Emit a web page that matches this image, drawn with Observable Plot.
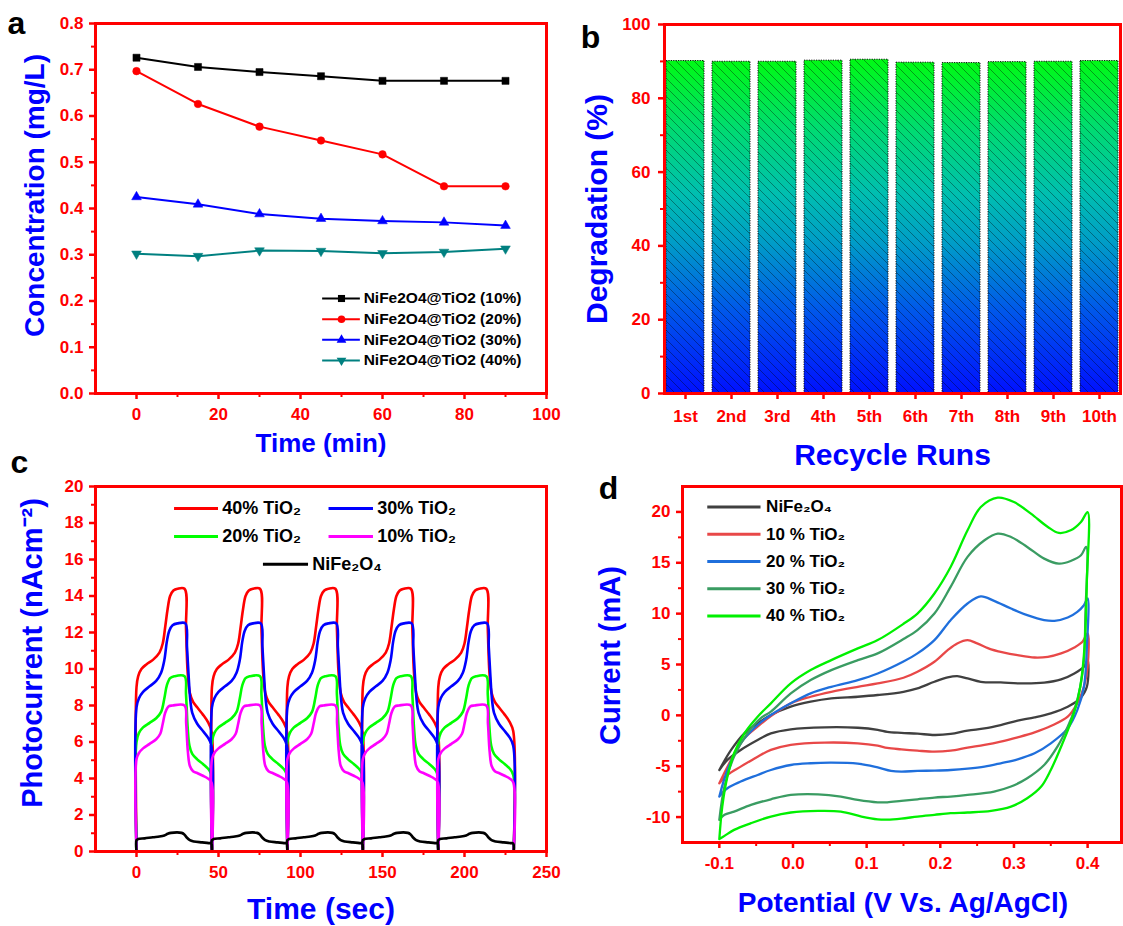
<!DOCTYPE html>
<html><head><meta charset="utf-8">
<script src="https://cdn.jsdelivr.net/npm/d3@7"></script>
<script src="https://cdn.jsdelivr.net/npm/@observablehq/plot@0.6"></script>
<style>
html,body{margin:0;padding:0;background:#fff;}
#root{position:relative;width:1123px;height:926px;background:#fff;overflow:hidden;}
</style></head><body><div id="root"></div>
<script>
// ---------- Panel a: concentration vs time ----------
const timeMin = [0, 15, 30, 45, 60, 75, 90];
const conc10 = [0.726, 0.706, 0.695, 0.686, 0.676, 0.676, 0.676];
const conc20 = [0.697, 0.626, 0.577, 0.547, 0.517, 0.448, 0.448];
const conc30 = [0.425, 0.409, 0.388, 0.378, 0.373, 0.370, 0.363];
const conc40 = [0.302, 0.297, 0.309, 0.308, 0.303, 0.306, 0.313];
const seriesA = ["NiFe2O4@TiO2 (10%)", "NiFe2O4@TiO2 (20%)", "NiFe2O4@TiO2 (30%)", "NiFe2O4@TiO2 (40%)"];
const ticksAX = [0, 20, 40, 60, 80, 100];
const ticksAY = [0, 0.1, 0.2, 0.3, 0.4, 0.5, 0.6, 0.7, 0.8];

// ---------- Panel b: recycle runs ----------
const runs = ["1st", "2nd", "3rd", "4th", "5th", "6th", "7th", "8th", "9th", "10th"];
const degradation = [90.1, 89.9, 89.9, 90.2, 90.45, 89.65, 89.55, 89.8, 89.9, 90.1];
const ticksBY = [0, 20, 40, 60, 80, 100];

// ---------- Panel c: photocurrent (one read cycle per series, repeated at the cycle starts) ----------
const cycleStarts = [0, 46, 92, 138, 184];
const cycleEnd = 230;
const pcNames = ["40% TiO₂", "30% TiO₂", "20% TiO₂", "10% TiO₂", "NiFe₂O₄"];
const pc40T = [0, 0, 1, 3, 6, 10, 14, 16, 17.5, 19, 20.5, 22.5, 25, 29.3, 30.2, 31.2, 32.5, 34.5, 37, 40.5, 43.5, 45.7];
const pc40V = [0, 9.0, 9.6, 10.0, 10.25, 10.5, 10.9, 11.4, 12.3, 13.3, 14.0, 14.3, 14.4, 14.4, 12.2, 9.8, 8.7, 8.2, 7.9, 7.5, 7.1, 6.6];
const pc30T = [0, 0, 1.5, 4, 8, 12, 15, 17, 18.5, 20, 22, 25, 29.8, 30.8, 31.8, 32.8, 34, 37, 40.5, 43.5, 45.7];
const pc30V = [0, 7.9, 8.4, 8.75, 9.05, 9.35, 9.8, 10.5, 11.5, 12.1, 12.4, 12.5, 12.5, 11.2, 9.6, 8.3, 7.6, 7.0, 6.6, 6.25, 5.8];
const pc20T = [0, 0, 1.5, 4, 8, 12, 15, 17, 18.5, 20.5, 23, 29.3, 30.2, 31.2, 32.3, 34, 37, 40.5, 43.5, 45.7];
const pc20V = [0, 6.0, 6.5, 6.8, 7.05, 7.3, 7.65, 8.4, 9.1, 9.5, 9.6, 9.6, 8.6, 6.8, 5.8, 5.35, 5.05, 4.8, 4.55, 4.2];
const pc10T = [0, 0, 1.5, 4, 8, 12, 14.5, 16, 17.5, 19.5, 22, 29.3, 30.3, 31.3, 32.5, 34.5, 37, 40.5, 43.5, 45.7];
const pc10V = [0, 5.05, 5.4, 5.65, 5.9, 6.15, 6.45, 7.0, 7.6, 7.95, 8.0, 8.0, 7.0, 5.5, 4.7, 4.4, 4.3, 4.15, 4.0, 3.8];
const pc0T = [0, 0, 1, 5, 10, 14, 17, 19, 21, 27.5, 29, 30.5, 32.5, 35, 40, 44, 45.7];
const pc0V = [0, 0.62, 0.68, 0.72, 0.78, 0.82, 0.88, 0.97, 1.02, 1.02, 0.95, 0.78, 0.62, 0.55, 0.5, 0.46, 0.43];
const ticksCX = [0, 50, 100, 150, 200, 250];
const ticksCY = [0, 2, 4, 6, 8, 10, 12, 14, 16, 18, 20];

// ---------- Panel d: cyclic voltammetry [potential V, current mA] ----------
const cvNames = ["NiFe₂O₄", "10 % TiO₂", "20 % TiO₂", "30 % TiO₂", "40 % TiO₂"];
const cvNiFe = [[-0.100,-5.37],[-0.084,-3.40],[-0.066,-1.77],[-0.048,-0.79],[-0.030,0.03],[-0.003,0.85],[0.024,1.34],[0.052,1.67],[0.088,1.83],[0.115,2.00],[0.150,2.32],[0.169,2.65],[0.192,3.30],[0.210,3.73],[0.223,3.86],[0.237,3.63],[0.255,3.30],[0.282,3.24],[0.309,3.14],[0.341,3.21],[0.364,3.53],[0.382,4.12],[0.395,4.78],[0.400,5.43],
  [0.399,2.81],[0.390,1.67],[0.373,0.85],[0.350,0.20],[0.328,-0.20],[0.305,-0.52],[0.282,-0.95],[0.260,-1.28],[0.237,-1.50],[0.214,-1.83],[0.192,-1.93],[0.169,-1.80],[0.147,-1.72],[0.128,-1.62],[0.115,-1.42],[0.088,-1.22],[0.043,-1.18],[-0.003,-1.37],[-0.030,-1.77],[-0.048,-2.42],[-0.071,-3.40],[-0.089,-4.38],[-0.100,-5.37]];
const cv10 = [[-0.100,-6.68],[-0.084,-4.38],[-0.066,-2.26],[-0.048,-1.11],[-0.030,-0.07],[-0.003,1.18],[0.024,1.83],[0.052,2.32],[0.088,2.81],[0.115,3.14],[0.150,3.70],[0.169,4.29],[0.192,5.27],[0.210,6.41],[0.223,7.07],[0.237,7.40],[0.250,7.07],[0.269,6.48],[0.282,6.25],[0.305,5.92],[0.328,5.69],[0.346,5.76],[0.364,6.09],[0.382,6.68],[0.393,7.23],[0.400,8.05],
  [0.400,4.78],[0.395,2.81],[0.386,1.18],[0.373,-0.13],[0.350,-1.05],[0.328,-1.67],[0.305,-2.16],[0.282,-2.59],[0.260,-2.91],[0.237,-3.17],[0.214,-3.47],[0.192,-3.57],[0.169,-3.47],[0.147,-3.34],[0.128,-3.20],[0.115,-2.98],[0.088,-2.75],[0.043,-2.68],[-0.003,-2.90],[-0.030,-3.40],[-0.048,-4.06],[-0.071,-5.04],[-0.089,-5.86],[-0.100,-6.68]];
const cv20 = [[-0.100,-7.98],[-0.089,-5.37],[-0.071,-2.75],[-0.048,-0.95],[-0.030,0.03],[-0.003,1.18],[0.024,2.16],[0.052,2.81],[0.088,3.47],[0.115,4.12],[0.150,5.30],[0.169,6.09],[0.192,7.40],[0.214,9.36],[0.237,11.0],[0.255,11.7],[0.273,11.26],[0.296,10.5],[0.318,9.85],[0.341,9.36],[0.355,9.29],[0.373,9.62],[0.386,10.18],[0.395,10.83],[0.400,11.49],
  [0.399,6.74],[0.395,2.81],[0.386,0.52],[0.373,-1.28],[0.350,-2.75],[0.328,-3.73],[0.305,-4.32],[0.282,-4.71],[0.260,-5.04],[0.237,-5.24],[0.214,-5.37],[0.192,-5.43],[0.169,-5.46],[0.147,-5.53],[0.133,-5.45],[0.115,-5.12],[0.088,-4.75],[0.052,-4.65],[0.024,-4.71],[-0.003,-4.88],[-0.030,-5.37],[-0.048,-5.86],[-0.071,-6.51],[-0.089,-7.17],[-0.100,-7.98]];
const cv30 = [[-0.100,-10.27],[-0.093,-7.00],[-0.080,-4.06],[-0.062,-1.77],[-0.044,-0.29],[-0.030,0.36],[-0.003,2.16],[0.024,3.47],[0.052,4.45],[0.088,5.43],[0.115,6.09],[0.150,7.50],[0.169,8.38],[0.192,10.01],[0.214,12.63],[0.237,15.58],[0.260,17.21],[0.278,17.87],[0.296,17.54],[0.318,16.56],[0.341,15.41],[0.361,14.92],[0.377,15.18],[0.391,15.74],[0.398,16.56],
  [0.397,10.0],[0.395,5.43],[0.390,2.81],[0.382,0.52],[0.373,-1.11],[0.359,-3.08],[0.341,-4.88],[0.318,-6.18],[0.296,-7.00],[0.273,-7.49],[0.237,-7.82],[0.214,-7.98],[0.192,-8.08],[0.169,-8.25],[0.147,-8.41],[0.128,-8.55],[0.115,-8.55],[0.088,-8.31],[0.065,-7.98],[0.034,-7.76],[-0.003,-7.82],[-0.030,-8.25],[-0.057,-8.80],[-0.080,-9.46],[-0.093,-9.78],[-0.100,-10.27]];
const cv40 = [[-0.100,-12.17],[-0.096,-8.97],[-0.089,-6.02],[-0.080,-3.73],[-0.066,-1.77],[-0.048,-0.13],[-0.030,1.18],[-0.003,3.14],[0.024,4.45],[0.052,5.43],[0.088,6.58],[0.115,7.40],[0.150,9.0],[0.169,10.01],[0.192,11.98],[0.214,14.59],[0.237,18.19],[0.255,20.48],[0.278,21.40],[0.300,20.97],[0.323,19.83],[0.346,18.52],[0.361,17.93],[0.377,18.19],[0.391,19.01],[0.400,19.99],
  [0.399,13.3],[0.397,8.38],[0.394,5.10],[0.390,2.81],[0.384,0.85],[0.375,-1.11],[0.364,-3.08],[0.350,-5.37],[0.337,-7.00],[0.318,-8.15],[0.296,-8.97],[0.269,-9.39],[0.237,-9.55],[0.214,-9.62],[0.192,-9.78],[0.169,-9.95],[0.147,-10.15],[0.128,-10.25],[0.115,-10.22],[0.093,-9.95],[0.065,-9.46],[0.034,-9.39],[-0.003,-9.55],[-0.030,-9.95],[-0.057,-10.60],[-0.080,-11.26],[-0.093,-11.85],[-0.100,-12.17]];
const ticksDX = [-0.1, 0, 0.1, 0.2, 0.3, 0.4];
const ticksDY = [-10, -5, 0, 5, 10, 15, 20];

// ---------- helpers ----------
const RED = "#ff0000", BLUE = "#0000ff";
const FONT = "'Liberation Sans', Arial, Helvetica, sans-serif";
const root = document.getElementById("root");
function baseStyle() { return {fontFamily: FONT, fontSize: "17px", fontWeight: "bold", background: "transparent", overflow: "visible"}; }
function mount(svg, left, top) { svg.style.position = "absolute"; svg.style.left = left + "px"; svg.style.top = top + "px"; root.appendChild(svg); return svg; }
function axisMarks({xTicks, xMinor, xFormat, yTicks, yMinor, yFormat, xPad = 8, yPad = 6}) {
  const base = {stroke: RED, fill: RED, fontSize: 17, fontWeight: "bold", label: null};
  const m = [
    Plot.axisX({...base, ticks: xTicks, tickFormat: xFormat, tickSize: 6, tickPadding: xPad, strokeWidth: 2.5}),
    Plot.axisY({...base, ticks: yTicks, tickFormat: yFormat, tickSize: 6, tickPadding: yPad, strokeWidth: 2.5})
  ];
  if (xMinor) m.push(Plot.axisX({...base, ticks: xMinor, tickFormat: () => "", tickSize: 4, tickPadding: 0, strokeWidth: 2}));
  if (yMinor) m.push(Plot.axisY({...base, ticks: yMinor, tickFormat: () => "", tickSize: 4, tickPadding: 0, strokeWidth: 2}));
  return m;
}
function label(text, {anchor, dx = 0, dy = 0, size, rotate = 0, fill = BLUE}) {
  return Plot.text([text], {text: d => d, frameAnchor: anchor, textAnchor: "middle", lineAnchor: "middle", dx, dy, rotate, fontSize: size, fontWeight: "bold", fill});
}
const mid = (a, b) => a.map((v, i) => (v + b[i]) / 2);

// ---------- Panel a ----------
const triDown = {draw(ctx, size) { const y = Math.sqrt(size / (Math.sqrt(3) * 3)); ctx.moveTo(0, 2 * y); ctx.lineTo(-Math.sqrt(3) * y, -y); ctx.lineTo(Math.sqrt(3) * y, -y); ctx.closePath(); }};
const styleA = [
  {color: "#000000", symbol: "square", r: 4},
  {color: "#ff0000", symbol: "circle", r: 3.8},
  {color: "#0000ff", symbol: "triangle", r: 3.6},
  {color: "#008080", symbol: triDown, r: 3.6}
];
const concA = [conc10, conc20, conc30, conc40];
const marksA = [];
concA.forEach((arr, k) => {
  const rows = timeMin.map((t, i) => ({t, c: arr[i]}));
  marksA.push(Plot.line(rows, {x: "t", y: "c", stroke: styleA[k].color, strokeWidth: 2}));
  marksA.push(Plot.dot(rows, {x: "t", y: "c", fill: styleA[k].color, stroke: styleA[k].color, strokeWidth: 0.5, symbol: styleA[k].symbol, r: styleA[k].r}));
});
seriesA.forEach((name, k) => {
  const row = [{y: 0.2054 - k * 0.0447}];
  marksA.push(Plot.ruleY(row, {y: "y", x1: 45.4, x2: 54.6, stroke: styleA[k].color, strokeWidth: 2}));
  marksA.push(Plot.dot(row, {x: 50, y: "y", fill: styleA[k].color, symbol: styleA[k].symbol, r: styleA[k].r}));
  marksA.push(Plot.text(row, {x: 55.4, y: "y", text: () => name, textAnchor: "start", fill: "#000", fontSize: 15.5, fontWeight: "bold"}));
});
const svgA = Plot.plot({
  width: 561, height: 460, marginLeft: 95, marginRight: 15, marginTop: 23, marginBottom: 67,
  x: {domain: [-10, 100]}, y: {domain: [0, 0.8]},
  style: baseStyle(),
  marks: [
    ...marksA,
    ...axisMarks({xTicks: ticksAX, xMinor: mid(ticksAX.slice(0, -1), ticksAX.slice(1)), yTicks: ticksAY, yMinor: mid(ticksAY.slice(0, -1), ticksAY.slice(1)), yFormat: d => d.toFixed(1)}),
    Plot.frame({stroke: RED, strokeWidth: 3}),
    label("Concentration (mg/L)", {anchor: "left", dx: -60, dy: -13, size: 28, rotate: -90}),
    label("Time (min)", {anchor: "bottom", dy: 50, size: 26}),
    label("a", {anchor: "top-left", dx: -79, dy: 0, size: 32, fill: "#000"})
  ]
});
mount(svgA, 0, 0);

// ---------- Panel b ----------
const barRows = runs.map((run, i) => ({run, deg: degradation[i]}));
const svgB = Plot.plot({
  width: 562, height: 470, marginLeft: 103, marginRight: 3, marginTop: 24, marginBottom: 77,
  x: {type: "band", domain: runs, paddingInner: 0.18, paddingOuter: 0.04},
  y: {domain: [0, 100]},
  style: baseStyle(),
  marks: [
    Plot.barY(barRows, {x: "run", y: "deg", fill: "url(#gradB)"}),
    Plot.barY(barRows, {x: "run", y: "deg", fill: "url(#hatchB)", stroke: "#111", strokeWidth: 1, strokeDasharray: "1.2,1.2"}),
    ...axisMarks({yTicks: ticksBY, yMinor: mid(ticksBY.slice(0, -1), ticksBY.slice(1)), xPad: 10, yPad: 8}),
    Plot.frame({stroke: RED, strokeWidth: 3}),
    label("Degradation (%)", {anchor: "left", dx: -67, dy: 0, size: 30, rotate: -90}),
    label("Recycle Runs", {anchor: "bottom", dy: 62, size: 30}),
    label("b", {anchor: "top-left", dx: -74, dy: 13, size: 32, fill: "#000"})
  ]
});
const defs = d3.select(svgB).insert("defs", ":first-child");
const grad = defs.append("linearGradient").attr("id", "gradB").attr("x1", 0).attr("y1", 1).attr("x2", 0).attr("y2", 0);
[[0, "#0010ff"], [0.25, "#0058ea"], [0.45, "#009cc8"], [0.6, "#00bfb0"], [0.8, "#00dc70"], [1, "#00fa14"]]
  .forEach(([o, c]) => grad.append("stop").attr("offset", o).attr("stop-color", c));
const pat = defs.append("pattern").attr("id", "hatchB").attr("patternUnits", "userSpaceOnUse").attr("width", 9).attr("height", 9);
pat.append("path").attr("d", "M-2,-2L11,11M-2,7L2,11M7,-2L11,2").attr("stroke", "#000").attr("stroke-width", 0.6).attr("stroke-opacity", 0.6).attr("fill", "none");
mount(svgB, 561, 0);

// ---------- Panel c ----------
const pcSeries = [
  {name: pcNames[0], color: "#ff0000", t: pc40T, v: pc40V},
  {name: pcNames[1], color: "#0000ff", t: pc30T, v: pc30V},
  {name: pcNames[2], color: "#00ff00", t: pc20T, v: pc20V},
  {name: pcNames[3], color: "#ff00ff", t: pc10T, v: pc10V},
  {name: pcNames[4], color: "#000000", t: pc0T, v: pc0V}
];
const drawOrder = [0, 2, 1, 3, 4];
const marksC = drawOrder.map(k => {
  const s = pcSeries[k];
  const rows = cycleStarts.flatMap(c => s.t.map((tt, i) => ({t: c + tt, v: s.v[i]})));
  rows.push({t: cycleEnd, v: 0});
  return Plot.line(rows, {x: "t", y: "v", stroke: s.color, strokeWidth: 2.6, curve: "catmull-rom", clip: true});
});
const legC = [
  {k: 0, x1: 23.2, x2: 50, y: 18.8}, {k: 1, x1: 117.4, x2: 144.5, y: 18.8},
  {k: 2, x1: 23.2, x2: 50, y: 17.26}, {k: 3, x1: 117.4, x2: 144.5, y: 17.26},
  {k: 4, x1: 77.4, x2: 104.9, y: 15.74}
];
legC.forEach(L => {
  const s = pcSeries[L.k];
  marksC.push(Plot.ruleY([L], {y: "y", x1: "x1", x2: "x2", stroke: s.color, strokeWidth: 3}));
  marksC.push(Plot.text([L], {x: d => d.x2 + 2.3, y: "y", text: () => s.name, textAnchor: "start", fill: "#000", fontSize: 18, fontWeight: "bold"}));
});
const svgC = Plot.plot({
  width: 561, height: 466, marginLeft: 95, marginRight: 15, marginTop: 26, marginBottom: 75,
  x: {domain: [-25, 250]}, y: {domain: [0, 20]},
  style: baseStyle(),
  marks: [
    ...marksC,
    ...axisMarks({xTicks: ticksCX, xMinor: mid(ticksCX.slice(0, -1), ticksCX.slice(1)), yTicks: ticksCY, yMinor: mid(ticksCY.slice(0, -1), ticksCY.slice(1))}),
    Plot.frame({stroke: RED, strokeWidth: 3}),
    label("Photocurrent (nAcm⁻²)", {anchor: "left", dx: -63, dy: -16, size: 29, rotate: -90}),
    label("Time (sec)", {anchor: "bottom", dy: 58, size: 30}),
    label("c", {anchor: "top-left", dx: -76, dy: -24, size: 32, fill: "#000"})
  ]
});
mount(svgC, 0, 460);

// ---------- Panel d ----------
const cvSeries = [
  {name: cvNames[0], color: "#404040", pts: cvNiFe},
  {name: cvNames[1], color: "#e84848", pts: cv10},
  {name: cvNames[2], color: "#1f6fdc", pts: cv20},
  {name: cvNames[3], color: "#3a9c62", pts: cv30},
  {name: cvNames[4], color: "#00f000", pts: cv40}
];
const marksD = cvSeries.map(s => Plot.line(s.pts, {x: d => d[0], y: d => d[1], stroke: s.color, strokeWidth: 2.3, curve: "catmull-rom"}));
cvSeries.forEach((s, k) => {
  const row = [{y: 20.49 - k * 2.68}];
  marksD.push(Plot.ruleY(row, {y: "y", x1: -0.1157, x2: -0.0434, stroke: s.color, strokeWidth: 3}));
  marksD.push(Plot.text(row, {x: -0.0365, y: "y", text: () => s.name, textAnchor: "start", fill: "#000", fontSize: 17, fontWeight: "bold"}));
});
const svgD = Plot.plot({
  width: 562, height: 466, marginLeft: 121, marginRight: 2, marginTop: 26, marginBottom: 84,
  x: {domain: [-0.15, 0.446]}, y: {domain: [-12.5, 22.5]},
  style: baseStyle(),
  marks: [
    ...marksD,
    ...axisMarks({xTicks: ticksDX, xMinor: [-0.05, 0.05, 0.15, 0.25, 0.35], xFormat: d => d.toFixed(1), yTicks: ticksDY, yMinor: mid(ticksDY.slice(0, -1), ticksDY.slice(1)), yFormat: d => String(d)}),
    Plot.frame({stroke: RED, strokeWidth: 3}),
    label("Current (mA)", {anchor: "left", dx: -72, dy: -9, size: 29, rotate: -90}),
    label("Potential (V Vs. Ag/AgCl)", {anchor: "bottom", dx: 1, dy: 61, size: 28}),
    label("d", {anchor: "top-left", dx: -74, dy: 2, size: 32, fill: "#000"})
  ]
});
mount(svgD, 561, 460);
</script></body></html>
